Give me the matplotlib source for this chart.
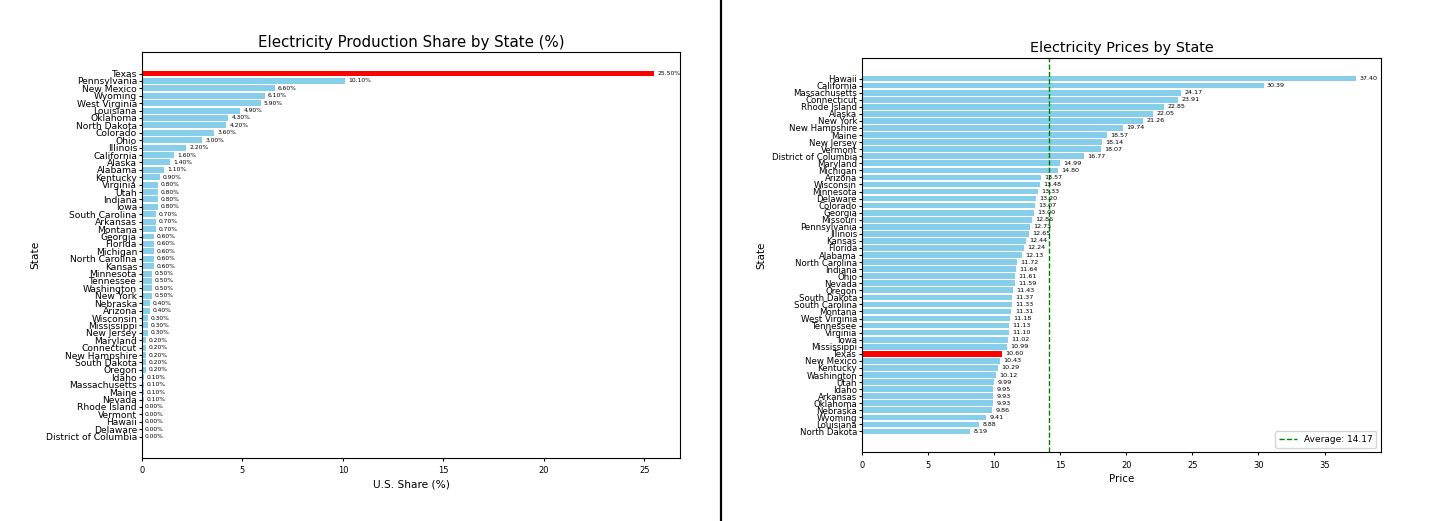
import numpy as np
import matplotlib
matplotlib.use("Agg")
import matplotlib.pyplot as plt
from matplotlib.lines import Line2D

# production share (%), sorted as in the chart (top to bottom)
share_states = [
    "Texas", "Pennsylvania", "New Mexico", "Wyoming", "West Virginia", "Louisiana",
    "Oklahoma", "North Dakota", "Colorado", "Ohio", "Illinois", "California", "Alaska",
    "Alabama", "Kentucky", "Virginia", "Utah", "Indiana", "Iowa", "South Carolina",
    "Arkansas", "Montana", "Georgia", "Florida", "Michigan", "North Carolina", "Kansas",
    "Minnesota", "Tennessee", "Washington", "New York", "Nebraska", "Arizona",
    "Wisconsin", "Mississippi", "New Jersey", "Maryland", "Connecticut",
    "New Hampshire", "South Dakota", "Oregon", "Idaho", "Massachusetts", "Maine",
    "Nevada", "Rhode Island", "Vermont", "Hawaii", "Delaware", "District of Columbia",
]
share_values = [
    25.5, 10.1, 6.6, 6.1, 5.9, 4.9, 4.3, 4.2, 3.6, 3.0, 2.2, 1.6, 1.4, 1.1, 0.9,
    0.8, 0.8, 0.8, 0.8, 0.7, 0.7, 0.7, 0.6, 0.6, 0.6, 0.6, 0.6, 0.5, 0.5, 0.5, 0.5,
    0.4, 0.4, 0.3, 0.3, 0.3, 0.2, 0.2, 0.2, 0.2, 0.2, 0.1, 0.1, 0.1, 0.1,
    0.0, 0.0, 0.0, 0.0, 0.0,
]

# electricity prices, sorted as in the chart (top to bottom)
price_states = [
    "Hawaii", "California", "Massachusetts", "Connecticut", "Rhode Island", "Alaska",
    "New York", "New Hampshire", "Maine", "New Jersey", "Vermont",
    "District of Columbia", "Maryland", "Michigan", "Arizona", "Wisconsin",
    "Minnesota", "Delaware", "Colorado", "Georgia", "Missouri", "Pennsylvania",
    "Illinois", "Kansas", "Florida", "Alabama", "North Carolina", "Indiana", "Ohio",
    "Nevada", "Oregon", "South Dakota", "South Carolina", "Montana", "West Virginia",
    "Tennessee", "Virginia", "Iowa", "Mississippi", "Texas", "New Mexico", "Kentucky",
    "Washington", "Utah", "Idaho", "Arkansas", "Oklahoma", "Nebraska", "Wyoming",
    "Louisiana", "North Dakota",
]
price_values = [
    37.40, 30.39, 24.17, 23.91, 22.85, 22.05, 21.26, 19.74, 18.57, 18.14, 18.07,
    16.77, 14.99, 14.80, 13.57, 13.48, 13.33, 13.20, 13.07, 13.00, 12.86, 12.73,
    12.65, 12.44, 12.24, 12.13, 11.72, 11.64, 11.61, 11.59, 11.43, 11.37, 11.33,
    11.31, 11.18, 11.13, 11.10, 11.02, 10.99, 10.60, 10.43, 10.29, 10.12, 9.99,
    9.95, 9.93, 9.93, 9.86, 9.41, 8.88, 8.19,
]

HIGHLIGHT = "Texas"
BASE_COLOR = "skyblue"
HL_COLOR = "red"

fig = plt.figure(figsize=(14.4, 5.21), dpi=100)
ax1 = fig.add_axes([0.0986, 0.121, 0.3736, 0.779])
ax2 = fig.add_axes([0.5986, 0.132, 0.3604, 0.757])

# left: production share
colors1 = [HL_COLOR if s == HIGHLIGHT else BASE_COLOR for s in share_states]
bars1 = ax1.barh(share_states, share_values, color=colors1)
ax1.invert_yaxis()
for bar, v in zip(bars1, share_values):
    ax1.text(bar.get_width() + 0.15, bar.get_y() + bar.get_height() / 2,
             f"{v:.2f}%", va="center", ha="left", fontsize=4.3)
ax1.set_title("Electricity Production Share by State (%)", fontsize=10.8, pad=4)
ax1.set_xlabel("U.S. Share (%)", fontsize=7.6, labelpad=3)
ax1.set_ylabel("State", fontsize=7.6)
ax1.tick_params(axis="y", labelsize=6.6, length=2.5, pad=1)
ax1.tick_params(axis="x", labelsize=6, length=2.5)

# right: prices
avg_price = np.mean(price_values)
colors2 = [HL_COLOR if s == HIGHLIGHT else BASE_COLOR for s in price_states]
bars2 = ax2.barh(price_states, price_values, color=colors2)
ax2.invert_yaxis()
for bar, v in zip(bars2, price_values):
    ax2.text(bar.get_width() + 0.25, bar.get_y() + bar.get_height() / 2,
             f"{v:.2f}", va="center", ha="left", fontsize=4.6)
ax2.axvline(avg_price, color="green", linestyle="--", linewidth=1,
            label=f"Average: {avg_price:.2f}")
ax2.legend(loc="lower right", fontsize=6.5)
ax2.set_title("Electricity Prices by State", fontsize=10.4, pad=4)
ax2.set_xlabel("Price", fontsize=7.4, labelpad=3)
ax2.set_ylabel("State", fontsize=7.4)
ax2.tick_params(axis="y", labelsize=6.2, length=2.5, pad=1)
ax2.tick_params(axis="x", labelsize=6, length=2.5)

# divider between the two panels
fig.add_artist(Line2D([0.5007, 0.5007], [0, 1], color="black", linewidth=1.6,
                      transform=fig.transFigure))

fig.savefig("out.png", dpi=100)
